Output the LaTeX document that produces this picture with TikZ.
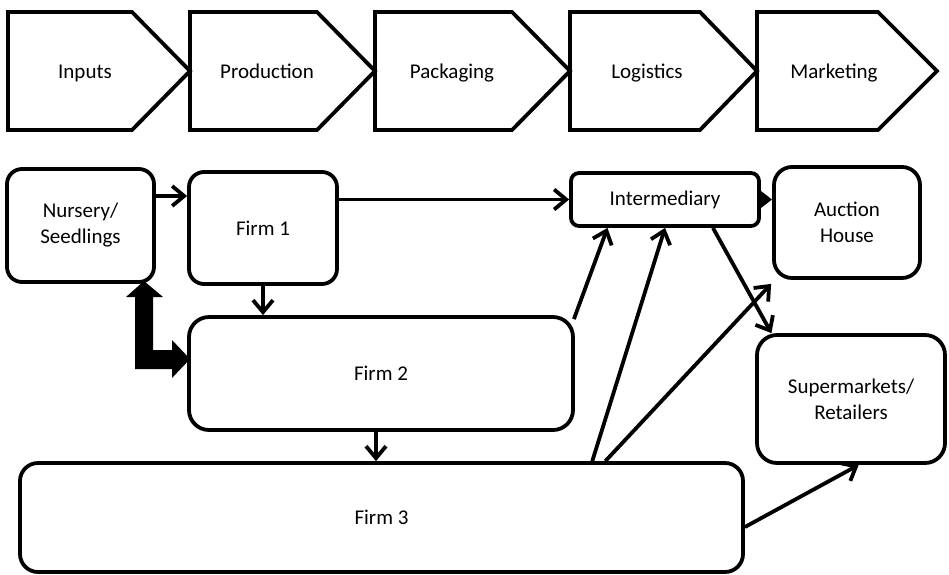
\documentclass[tikz,border=0pt]{standalone}
\usepackage{fontspec}
\setmainfont{Carlito}
\usetikzlibrary{arrows.meta,calc}
\begin{document}
\begin{tikzpicture}[x=1pt,y=-1pt,
  txt/.style={font=\fontsize{21}{26}\selectfont, align=center},
  box/.style={draw, line width=3.8pt, rounded corners=#1, txt, inner sep=0pt},
  box/.default=16pt,
  sz/.style 2 args={minimum width=#1pt, minimum height=#2pt},
  arr/.style={line width=3.8pt, -{Straight Barb[length=12pt,width=20pt]}},
  chev/.style={draw, line width=3.8pt, line join=miter}]
\useasboundingbox (0,0) rectangle (949,574);

% value chain chevrons
\foreach \l/\r/\t/\lab/\n in {8/132/190/Inputs/inp, 190/317/375/Production/prod, 375/512/570/Packaging/pack, 570/700/757/Logistics/logi, 757/878/937/Marketing/mark}{
  \draw[chev] (\l,12) -- (\r,12) -- (\t,71) -- (\r,130) -- (\l,130) -- cycle;
  \node[txt, anchor=base] (\n) at (\l+77,78) {\lab};
}

% boxes
\node[box=15pt, sz={147}{113}] (nursery) at (80.5,225.5) {Nursery/\\Seedlings};
\node[box=15pt, sz={148}{112}] (firm1) at (263,228) {Firm 1};
\node[box=20pt, sz={384}{113}] (firm2) at (381,373.5) {Firm 2};
\node[box=18pt, sz={723}{109}] (firm3) at (381.5,517.5) {Firm 3};
\node[box=8pt, sz={188}{53}] (inter) at (665,199.5) {Intermediary};
\node[box=18pt, sz={146}{111}] (auction) at (847,222.5) {Auction\\House};
\node[box=20pt, sz={188}{128}] (super) at (851,399) {Supermarkets/\\Retailers};

% connectors
\draw[arr] (nursery.east |- 0,196) -- (firm1.west |- 0,196);
\draw[arr] (firm1.east |- inter.west) -- (inter.west);
\draw[line width=3.8pt, -{Triangle[length=13pt,width=19pt]}] (inter.east) -- (auction.west |- inter.east);
\draw[arr] (firm1.south) -- (firm1.south |- firm2.north);
\draw[arr] (firm2.south -| 376,0) -- (firm3.north -| 376,0);
\draw[arr] ($(firm2.north east)+(-1,4)$) -- ($(inter.south west)!0.2!(inter.south east)$);
\draw[arr] ($(firm3.north west)!0.79!(firm3.north east)$) -- (inter.south);
\draw[arr] ($(firm3.north west)!0.808!(firm3.north east)$) -- ($(auction.south west)+(-1,4)$);
\draw[arr] ($(inter.south west)!0.75!(inter.south east)$) -- ($(super.north west)!0.085!(super.north east)$);
\draw[arr] (firm3.east |- 0,527) -- ($(super.south west)!0.54!(super.south east)$);

% thick two-headed block arrow between nursery and firm 2
\fill (144,281) -- (163,297) -- (153,297) -- (153,350) -- (172,350) -- (172,340)
  -- (190,359) -- (172,378) -- (172,369) -- (135,369) -- (135,297) -- (126,297) -- cycle;
\end{tikzpicture}
\end{document}
